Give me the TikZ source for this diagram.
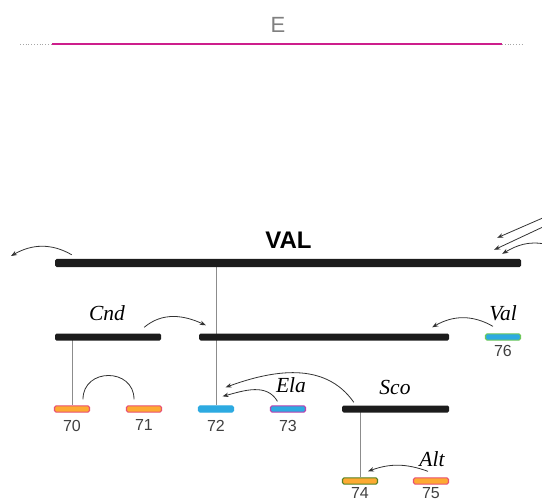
\documentclass[tikz,border=0pt]{standalone}
\usepackage{fontspec}
\setmainfont{Liberation Sans}
\newfontfamily\rolefont{Liberation Serif}
\usetikzlibrary{arrows.meta,positioning,backgrounds}
\definecolor{mag}{RGB}{205,30,140}
\definecolor{tangerine}{RGB}{253,170,50}
\definecolor{sky}{RGB}{45,170,225}
\definecolor{rose}{RGB}{232,80,115}
\definecolor{plum}{RGB}{185,65,175}
\definecolor{mint}{RGB}{110,200,90}
\definecolor{moss}{RGB}{85,130,35}
\definecolor{ink}{RGB}{28,28,28}
\tikzset{
  >={Stealth[length=6pt,width=4.5pt]},
  bar/.style={fill=ink,rounded corners=1.5pt,inner sep=0pt,minimum height=#1},
  bar/.default=7pt,
  tok/.style 2 args={fill=#1,draw=#2,line width=1.1pt,rounded corners=1.5pt,
    inner sep=0pt,minimum width=35pt,minimum height=6.2pt},
  num/.style={font=\fontsize{16}{16}\selectfont,text=black!75,inner sep=0pt},
  role/.style={font=\rolefont\itshape\fontsize{21.5}{21.5}\selectfont,inner sep=0pt},
  stem/.style={draw=black!45,line width=0.8pt},
  lnk/.style={->,draw=black!80,line width=0.8pt},
}

\begin{document}
\begin{tikzpicture}[x=1pt,y=1pt]
  \useasboundingbox (0,0) rectangle (542,-503);
  % event line
  \node[font=\fontsize{22}{22}\selectfont,text=black!50] (e) at (278,-25) {E};
  \coordinate (eLL) at (20,-44); \coordinate (eL) at (52,-44);
  \coordinate (eR) at (502,-44); \coordinate (eRR) at (524,-44);
  \draw[black!35,dotted,line width=0.8pt] (eLL) -- (eL) (eR) -- (eRR);
  \draw[mag,line width=2pt] (eL) -- (eR);

  % frame bars
  \node[bar=8pt,minimum width=466pt] (val) at (288,-263) {};
  \node[font=\bfseries\fontsize{24}{24}\selectfont,inner sep=0pt] (valtxt) at (288.5,-240) {VAL};
  \node[bar,minimum width=106pt] (cnd) at (108,-337) {};
  \node[bar,minimum width=250pt] (mid) at (324,-337) {};
  \node[bar,minimum width=107pt] (sco) at (395.5,-409) {};

  \foreach \n/\x/\y/\f/\d/\g in {70/72/409/tangerine/rose/7, 71/144/409/tangerine/rose/7,
      72/216/409/sky/sky/7, 73/288/409/sky/plum/7, 74/360/481/tangerine/moss/3,
      75/431/481/tangerine/rose/3, 76/503/337/sky/mint/4}
  {
    \node[tok={\f}{\d}] (t\n) at (\x,-\y) {};
    \node[num,below=\g pt of t\n] (n\n) {\n};
  }

  \foreach \r/\x/\y in {Cnd/107/313, Val/503/313, Ela/291/385, Sco/395/387, Alt/432/459}
    \node[role] (r\r) at (\x,-\y) {\r};

  \begin{scope}[on background layer]
    \draw[stem] (val.center -| t72.north) -- (t72.north);
    \draw[stem] (cnd.center -| t70.north) -- (t70.north);
    \draw[stem] (sco.center -| t74.north) -- (t74.north);
  \end{scope}

  \coordinate (outL) at (11,-256);
  \coordinate (inA) at (545,-217);
  \coordinate (inB) at (545,-226);
  \coordinate (inC) at (545,-244);
  \draw[lnk] ([xshift=17pt,yshift=4pt]val.north west) to[out=150,in=30] (outL);
  \draw[lnk] (inA) -- ([xshift=-24pt,yshift=21pt]val.north east);
  \draw[lnk] (inB) -- ([xshift=-27pt,yshift=9pt]val.north east);
  \draw[lnk] (inC) to[out=170,in=30] ([xshift=-19pt,yshift=5pt]val.north east);

  \draw[lnk] ([xshift=-17pt,yshift=6pt]cnd.north east) to[out=40,in=155] ([xshift=7pt,yshift=8pt]mid.north west);
  \draw[lnk] ([xshift=8pt,yshift=7pt]t76.north west) to[out=150,in=30] ([xshift=-17pt,yshift=6pt]mid.north east);
  \draw[draw=black!80,line width=0.8pt] ([xshift=11pt,yshift=6pt]t70.north) to[out=90,in=90,looseness=1.6] ([xshift=-10pt,yshift=6pt]t71.north);
  \draw[lnk] ([xshift=12pt,yshift=3pt]sco.north west) to[out=125,in=20] ([xshift=-8.5pt,yshift=18pt]t72.north east);
  \draw[lnk] ([xshift=7.5pt,yshift=4pt]t73.north west) to[out=120,in=15] ([xshift=-11.5pt,yshift=9pt]t72.north east);
  \draw[lnk] ([xshift=-3pt,yshift=6pt]t75.north) to[out=160,in=20] ([xshift=8pt,yshift=6pt]t74.north);
\end{tikzpicture}
\end{document}
